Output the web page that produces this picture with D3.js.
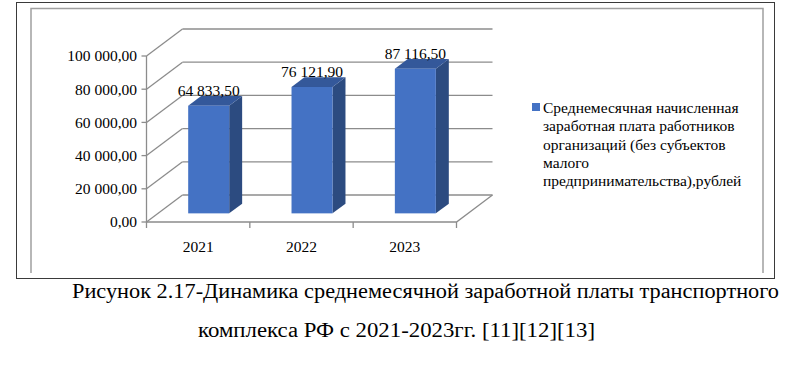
<!DOCTYPE html>
<html>
<head>
<meta charset="utf-8">
<script src="https://cdn.jsdelivr.net/npm/d3@7"></script>
<style>
  body { margin: 0; background: #fff; }
</style>
</head>
<body>
<div id="chart"></div>
<script>
// chart data
var years = ["2021", "2022", "2023"];
var salary = [64833.50, 76121.90, 87116.50];
var yTicks = [0, 20000, 40000, 60000, 80000, 100000];
var seriesName = ["Среднемесячная начисленная", "заработная плата работников",
  "организаций (без субъектов", "малого", "предпринимательства),рублей"];
var caption = ["Рисунок 2.17-Динамика среднемесячной заработной платы транспортного",
  "комплекса РФ с 2021-2023гг. [11][12][13]"];

var width = 800, height = 372;
var serif = "Liberation Serif, DejaVu Serif, serif";

var svg = d3.select("#chart")
  .append("svg")
  .attr("width", width)
  .attr("height", height)
  .attr("font-family", serif);

// number format like "64 833,50"
var fmt = function(v) {
  var s = d3.format(",.2f")(v);
  return s.replace(/,/g, " ").replace(".", ",");
};

// frames
svg.append("rect")
  .attr("x", 16.5).attr("y", 2.5)
  .attr("width", 758).attr("height", 276)
  .attr("fill", "none").attr("stroke", "#3a3a3a").attr("stroke-width", 1);
svg.append("path")
  .attr("d", "M31,273V8.5H763V273")
  .attr("fill", "none").attr("stroke", "#a0a0a0").attr("stroke-width", 1.5);

// 3d geometry: front plane + depth vector
var x0 = 146.5, x1 = 456.5;
var depth = [36, -27];
var t0 = 0.32, t1 = 0.68;

var y = d3.scaleLinear().domain([0, 100000]).range([222, 56]);
var x = d3.scaleBand().domain(years).range([x0, x1]);

var grid = svg.append("g").attr("stroke", "#8c8c8c").attr("stroke-width", 1.3).attr("fill", "none");

// back wall and side wall gridlines
yTicks.forEach(function(t) {
  var yy = y(t);
  grid.append("line")
    .attr("x1", x0 + depth[0]).attr("y1", yy + depth[1])
    .attr("x2", x1 + depth[0]).attr("y2", yy + depth[1]);
  grid.append("line")
    .attr("x1", x0).attr("y1", yy)
    .attr("x2", x0 + depth[0]).attr("y2", yy + depth[1]);
});
// floor
grid.append("path")
  .attr("d", "M" + x0 + "," + y(0) + "L" + x1 + "," + y(0) +
    "L" + (x1 + depth[0]) + "," + (y(0) + depth[1]));

// y axis
var axisG = svg.append("g").attr("stroke", "#8c8c8c").attr("stroke-width", 1.3);
axisG.append("line").attr("x1", x0).attr("x2", x0).attr("y1", y(100000)).attr("y2", y(0) + 0.5);
yTicks.forEach(function(t) {
  axisG.append("line").attr("x1", x0 - 5).attr("x2", x0).attr("y1", y(t)).attr("y2", y(t));
});
// category ticks
x.domain().concat(["end"]).forEach(function(d, i) {
  var xx = x0 + i * x.bandwidth();
  axisG.append("line").attr("x1", xx).attr("x2", xx).attr("y1", y(0)).attr("y2", y(0) + 6);
});

svg.append("g").selectAll("text")
  .data(yTicks).enter().append("text")
  .attr("x", 137)
  .attr("y", function(d) { return y(d); })
  .attr("dy", "0.35em")
  .attr("text-anchor", "end")
  .attr("font-size", 15.5)
  .text(fmt);

svg.append("g").selectAll("text")
  .data(years).enter().append("text")
  .attr("x", function(d) { return x(d) + x.bandwidth() / 2; })
  .attr("y", 252)
  .attr("text-anchor", "middle")
  .attr("font-size", 15.5)
  .text(function(d) { return d; });

// bars
var barW = 41;
var bars = svg.append("g").selectAll("g")
  .data(salary).enter().append("g");

function barGeom(d, i) {
  var bx = x(years[i]) + (x.bandwidth() - barW) / 2 + depth[0] * t0 - 1;
  var by0 = y(0) + depth[1] * t0;
  var by1 = y(d) + depth[1] * t0;
  var ddx = depth[0] * (t1 - t0), ddy = depth[1] * (t1 - t0);
  return { bx: bx, by0: by0, by1: by1, ddx: ddx, ddy: ddy };
}

bars.append("path")
  .attr("fill", "#2c4b80")
  .attr("d", function(d, i) {
    var g = barGeom(d, i);
    var r = g.bx + barW;
    return "M" + r + "," + g.by0 + "L" + r + "," + g.by1 +
      "L" + (r + g.ddx) + "," + (g.by1 + g.ddy) + "L" + (r + g.ddx) + "," + (g.by0 + g.ddy) + "Z";
  });
bars.append("path")
  .attr("fill", "#34589a")
  .attr("d", function(d, i) {
    var g = barGeom(d, i);
    return "M" + g.bx + "," + g.by1 + "L" + (g.bx + barW) + "," + g.by1 +
      "L" + (g.bx + barW + g.ddx) + "," + (g.by1 + g.ddy) + "L" + (g.bx + g.ddx) + "," + (g.by1 + g.ddy) + "Z";
  });
bars.append("rect")
  .attr("fill", "#4472c4")
  .attr("x", function(d, i) { return barGeom(d, i).bx; })
  .attr("y", function(d, i) { return barGeom(d, i).by1; })
  .attr("width", barW)
  .attr("height", function(d, i) { var g = barGeom(d, i); return g.by0 - g.by1; });

bars.append("text")
  .attr("x", function(d, i) { return barGeom(d, i).bx + barW / 2; })
  .attr("y", function(d, i) { return barGeom(d, i).by1 - 9.5; })
  .attr("text-anchor", "middle")
  .attr("font-size", 15.5)
  .text(fmt);

// legend
var legend = svg.append("g");
legend.append("rect")
  .attr("x", 532).attr("y", 103)
  .attr("width", 8).attr("height", 8)
  .attr("fill", "#4472c4");
legend.selectAll("text")
  .data(seriesName).enter().append("text")
  .attr("x", 543)
  .attr("y", function(d, i) { return 113 + i * 18.3; })
  .attr("font-size", 15.5)
  .text(function(d) { return d; });

// caption
svg.append("text")
  .attr("x", 72).attr("y", 298)
  .attr("textLength", 707).attr("lengthAdjust", "spacingAndGlyphs")
  .attr("font-size", 20.5)
  .text(caption[0]);
svg.append("text")
  .attr("x", 198).attr("y", 337)
  .attr("textLength", 397).attr("lengthAdjust", "spacingAndGlyphs")
  .attr("font-size", 20.5)
  .text(caption[1]);
</script>
</body>
</html>
